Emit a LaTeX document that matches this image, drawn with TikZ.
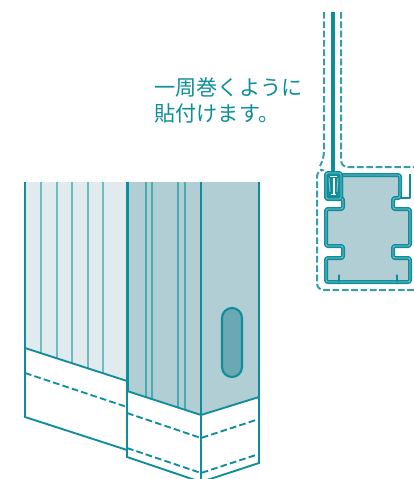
\documentclass[tikz,border=0pt]{standalone}
\usepackage{fontspec}
\newfontfamily\cjk{Noto Sans CJK JP}
\definecolor{teal1}{HTML}{0E8E9A}
\definecolor{tealpale}{HTML}{E1EAED}
\definecolor{tealmid}{HTML}{B0CED3}
\definecolor{tealslot}{HTML}{6AA9B3}
\tikzstyle{edge} = [draw=teal1, line width=1.4pt]
\tikzstyle{rib} = [draw=teal1!60, line width=1.1pt]
\tikzstyle{cut} = [draw=teal1, line width=1.4pt, dash pattern=on 5pt off 2.4pt]
\tikzstyle{wrap} = [draw=teal1!85, line width=1.5pt, dash pattern=on 5pt off 2pt, rounded corners=5pt]
\tikzstyle{body} = [draw=teal1, line width=1.25pt, double=teal1!45, double distance=0.5pt, line join=round, rounded corners=1.5pt]
\tikzstyle{caption} = [text=teal1, font=\cjk\fontsize{15.9pt}{19.5pt}\selectfont, align=left, anchor=north west, inner sep=0pt]

\begin{document}
\begin{tikzpicture}[x=0.75pt, y=0.75pt, yscale=-1]
\useasboundingbox (0,0) rectangle (414,479);
\begin{scope}
\clip (0,0) rectangle (414,479);

% left panel
\fill[tealpale] (25,182) -- (127,182) -- (127,381) -- (25,348) -- cycle;
\foreach \x/\y in {41/353, 57/358, 72/363, 88/368, 103/373} {
  \draw[rib] (\x,182) -- (\x,\y);
}
\draw[edge] (25,182) -- (25,417) -- (127,450);
\draw[edge] (25,348) -- (127,381);
\draw[cut] (25,373) -- (127,407);

% middle and right faces
\fill[tealmid] (127,182) -- (259,182) -- (259,397) -- (201,415) -- (127,391) -- cycle;
\foreach \x/\y in {146/397, 152/399, 178/407, 185/410} {
  \draw[rib, draw=teal1!75] (\x,182) -- (\x,\y);
}
\draw[edge, line width=2.4pt] (127.5,182) -- (127.5,391);
\draw[edge] (127,391) -- (127,457) -- (201,482) -- (259,463) -- (259,182);
\draw[edge] (201,182) -- (201,482);
\draw[edge] (127,391) -- (201,415) -- (259,397);
\draw[cut] (127,413) -- (201,438) -- (259,419);
\draw[cut] (127,448) -- (201,473) -- (259,454);

% slot
\draw[edge, fill=tealslot, line width=1.6pt] (222,318) arc[start angle=180, end angle=360, radius=10] -- (242,367) arc[start angle=0, end angle=180, radius=10] -- cycle;

% caption
\node (caption) [caption] at (154,77) {一周巻くように\\貼付けます。};

% section, film
\draw[wrap] (324,12) -- (324,158) -- (320,166);
\draw[wrap] (320,170) -- (317,170) -- (317,290) -- (414,290);
\draw[wrap] (341,12) -- (341,167) -- (414,167);
\draw[teal1, line width=3.2pt] (333,12) -- (333,182);

% section, body
\draw[body, fill=tealmid] (341,175) -- (400,175) -- (400,198) -- (393,198) -- (393,209) -- (410,209) -- (410,246) -- (393,246) -- (393,258) -- (410,258) -- (410,282) -- (326,282) -- (326,258) -- (343,258) -- (343,246) -- (326,246) -- (326,209) -- (343,209) -- (343,199) -- (341,199) -- cycle;
\draw[teal1, line width=2.2pt, line cap=round] (339,281) -- (339,275.5) (397,281) -- (397,275.5);

% section, clips
\draw[body, fill=teal1] (326,173) rectangle (341,199);
\draw[white!50!teal1, line width=0.7pt] (329,178) -- (330,192) (338,178) -- (337,192);
\draw[white, line width=1.5pt] (333.5,178) -- (333.5,194);
\draw[white, line width=1pt] (330,176.5) -- (337,176.5) (331,194.5) -- (336,194.5);
\draw[draw=teal1, line width=1.6pt, line join=round] (400,198) -- (410,198) -- (410,174);
\end{scope}
\end{tikzpicture}
\end{document}
